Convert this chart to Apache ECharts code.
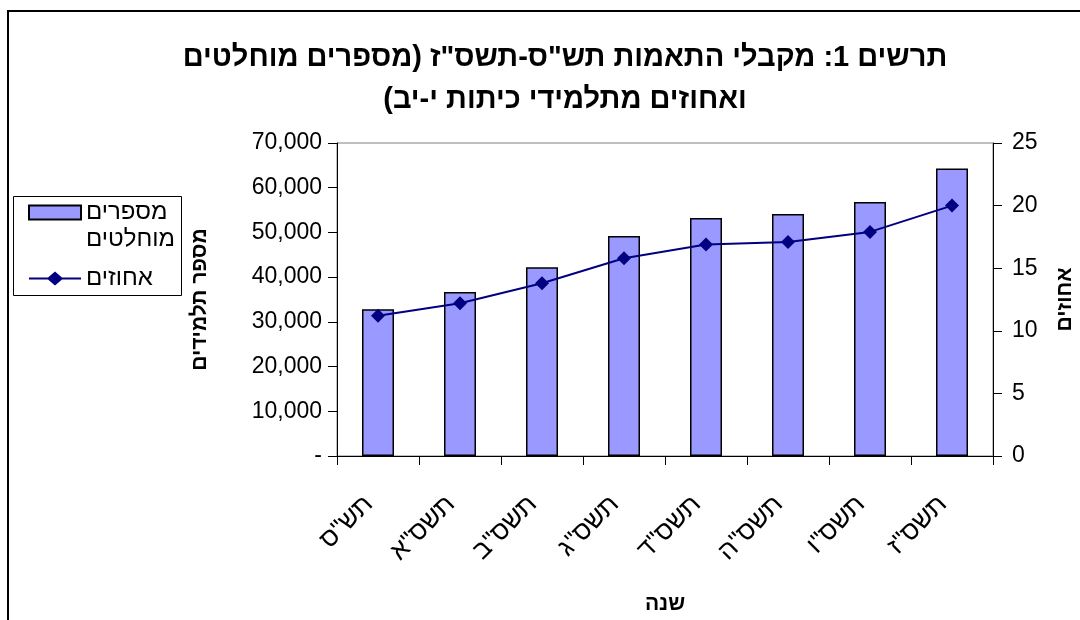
<!DOCTYPE html>
<html>
<head>
<meta charset="utf-8">
<script src="https://cdn.jsdelivr.net/npm/echarts@6/dist/echarts.min.js"></script>
<style>
  html, body { margin: 0; padding: 0; background: #fff; }
  #app { width: 1080px; height: 620px; direction: rtl; }
</style>
</head>
<body>
<div id="app"></div>
<script>
// שנים (ציר X)
const years = ['תש"ס', 'תשס"א', 'תשס"ב', 'תשס"ג', 'תשס"ד', 'תשס"ה', 'תשס"ו', 'תשס"ז']
// מספרים מוחלטים (ציר שמאלי)
const counts = [32800, 36700, 42200, 49200, 53200, 54100, 56800, 64300]
// אחוזים (ציר ימני)
const percents = [11.2, 12.2, 13.8, 15.8, 16.9, 17.1, 17.9, 20.0]

const FONT = 'Liberation Sans, Arial, sans-serif'
const barName = 'מספרים מוחלטים'
const lineName = 'אחוזים'

const myChart = echarts.init(document.getElementById('app'))
myChart.setOption({
  animation: false,
  textStyle: { fontFamily: FONT, color: '#000' },
  title: {
    text: 'תרשים 1: מקבלי התאמות תש"ס-תשס"ז (מספרים מוחלטים\nואחוזים מתלמידי כיתות י-יב)',
    left: 560,
    top: 32,
    textAlign: 'center',
    textStyle: {
      fontFamily: FONT,
      fontSize: 29,
      fontWeight: 'bold',
      lineHeight: 42,
      color: '#000',
    },
  },
  graphic: [
    // מסגרת חיצונית
    {
      type: 'rect',
      shape: { x: 8, y: 11, width: 1200, height: 800 },
      style: { fill: null, stroke: '#000', lineWidth: 2 },
      silent: true,
    },
    // מסגרת המקרא
    {
      type: 'rect',
      shape: { x: 13.5, y: 196.5, width: 168, height: 99 },
      style: { fill: '#fff', stroke: '#000', lineWidth: 1 },
      silent: true,
      z: -1,
    },
  ],
  legend: {
    orient: 'vertical',
    left: 28,
    top: 172,
    padding: 0,
    itemWidth: 52,
    itemHeight: 14,
    itemGap: 12,
    align: 'left',
    formatter(name) {
      // שורה ריקה מעל כדי שהסמל יעמוד מול השורה הראשונה
      return name === barName ? ' \nמספרים\nמוחלטים' : name
    },
    textStyle: { fontFamily: FONT, fontSize: 24, color: '#000', lineHeight: 27 },
    data: [
      { name: barName, icon: 'rect' },
      {
        name: lineName,
        icon: 'path://M0,6L19,6L26,0L33,6L52,6L52,8L33,8L26,14L19,8L0,8Z',
        itemStyle: { color: '#000080', borderWidth: 0 },
      },
    ],
  },
  grid: {
    left: 337,
    right: 87,
    top: 143,
    bottom: 164,
    show: true,
    borderColor: '#808080',
    borderWidth: 1,
    containLabel: false,
    outerBoundsMode: 'none',
  },
  xAxis: [
    {
      type: 'category',
      data: years,
      name: 'שנה',
      nameLocation: 'middle',
      nameGap: 138,
      nameTextStyle: { fontFamily: FONT, fontSize: 21, fontWeight: 'bold', color: '#000' },
      axisLine: { lineStyle: { color: '#000', width: 1 } },
      axisTick: { show: true, length: 9, lineStyle: { color: '#000' } },
      axisLabel: {
        interval: 0,
        rotate: 45,
        margin: 35,
        padding: [0, 13, 0, 0],
        fontFamily: FONT,
        fontSize: 26,
        color: '#000',
      },
    },
  ],
  yAxis: [
    {
      type: 'value',
      position: 'left',
      min: 0,
      max: 70000,
      interval: 10000,
      name: 'מספר תלמידים',
      nameLocation: 'middle',
      nameGap: 126,
      nameTextStyle: { fontFamily: FONT, fontSize: 21, fontWeight: 'bold', color: '#000' },
      axisLine: { show: true, lineStyle: { color: '#000', width: 1 } },
      axisTick: { show: true, length: 9, lineStyle: { color: '#000' } },
      splitLine: { show: false },
      axisLabel: {
        margin: 15,
        fontFamily: FONT,
        fontSize: 23,
        color: '#000',
        formatter(v) {
          return v === 0 ? '-' : v.toLocaleString('en-US')
        },
      },
    },
    {
      type: 'value',
      position: 'right',
      min: 0,
      max: 25,
      interval: 5,
      name: 'אחוזים',
      nameLocation: 'middle',
      nameGap: 62,
      nameTextStyle: { fontFamily: FONT, fontSize: 21, fontWeight: 'bold', color: '#000' },
      axisLine: { show: true, lineStyle: { color: '#000', width: 1 } },
      axisTick: { show: true, length: 9, lineStyle: { color: '#000' } },
      splitLine: { show: false },
      axisLabel: {
        margin: 19,
        fontFamily: FONT,
        fontSize: 23,
        color: '#000',
      },
    },
  ],
  series: [
    {
      name: barName,
      type: 'bar',
      yAxisIndex: 0,
      barWidth: 32,
      itemStyle: { color: '#9999FF', borderColor: '#000', borderWidth: 1.5 },
      data: counts,
    },
    {
      name: lineName,
      type: 'line',
      yAxisIndex: 1,
      symbol: 'diamond',
      symbolSize: 14,
      itemStyle: { color: '#000080' },
      lineStyle: { color: '#000080', width: 2 },
      data: percents,
    },
  ],
})
</script>
</body>
</html>
